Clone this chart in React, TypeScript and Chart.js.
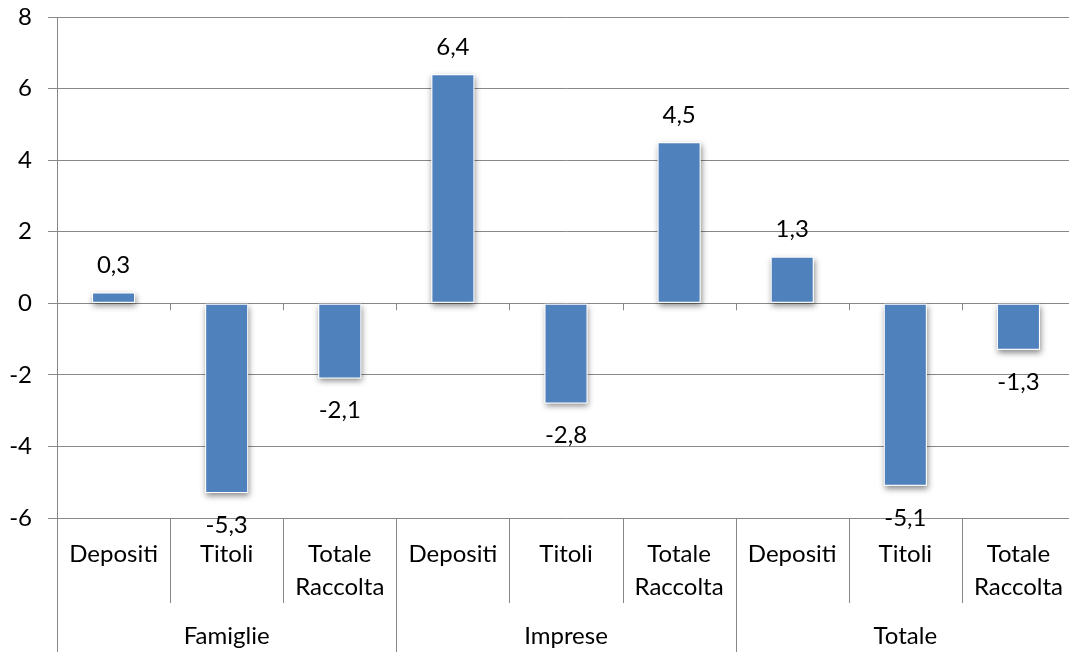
import { useEffect, useRef } from 'react';
import { Chart, registerables } from 'chart.js';

Chart.register(...registerables);

// Top-level groups and the sub-categories repeated under each of them
const groups = ['Famiglie', 'Imprese', 'Totale'];
const subCategories = [['Depositi'], ['Titoli'], ['Totale', 'Raccolta']];

// Percentage changes, one per sub-category, in group order
const values = [0.3, -5.3, -2.1, 6.4, -2.8, 4.5, 1.3, -5.1, -1.3];

// Value axis
const yTicks = [-6, -4, -2, 0, 2, 4, 6, 8];

const FONT = 'Lato, "DejaVu Sans", sans-serif';
const FONT_SIZE = 24;
const GRID = '#888888';
const BAR = '#4F81BD';

const labels = groups.flatMap((g) => subCategories.map((s) => `${g} ${s.join(' ')}`));

const fmt = (v: number) => v.toFixed(1).replace('.', ',');

const line = (ctx: CanvasRenderingContext2D, x: number, y1: number, y2: number) => {
  const px = Math.round(x) + 0.5;
  ctx.beginPath();
  ctx.moveTo(px, y1);
  ctx.lineTo(px, y2);
  ctx.stroke();
};

// Soft drop shadow painted beneath every bar
const barShadow = {
  id: 'barShadow',
  beforeDatasetsDraw(chart: any) {
    const ctx = chart.ctx as CanvasRenderingContext2D;
    const meta = chart.getDatasetMeta(0);
    ctx.save();
    ctx.shadowColor = 'rgba(0,0,0,0.45)';
    ctx.shadowBlur = 6;
    ctx.shadowOffsetX = 1;
    ctx.shadowOffsetY = 3;
    ctx.fillStyle = '#ffffff';
    meta.data.forEach((bar: any) => {
      const { x, y, base, width } = bar.getProps(['x', 'y', 'base', 'width'], true);
      const top = Math.min(y, base);
      const h = Math.abs(base - y);
      ctx.fillRect(x - width / 2, top, width, h);
    });
    ctx.restore();
  },
};

// Two-level category axis, zero-line ticks and value labels
const annotations = {
  id: 'annotations',
  afterDraw(chart: any) {
    const ctx = chart.ctx as CanvasRenderingContext2D;
    const area = chart.chartArea;
    const xs = chart.scales.x;
    const ys = chart.scales.y;
    const n = labels.length;
    const step = (area.right - area.left) / n;
    const zeroY = ys.getPixelForValue(0);
    const perGroup = subCategories.length;
    const chartBottom = chart.height;

    ctx.save();
    ctx.strokeStyle = GRID;
    ctx.lineWidth = 1;

    for (let i = 0; i <= n; i++) {
      const bx = xs.getPixelForValue(0) - step / 2 + i * step;
      const isGroupEdge = i % perGroup === 0;
      line(ctx, bx, area.bottom, isGroupEdge ? chartBottom : area.bottom + 85);
      if (i > 0 && i < n) line(ctx, bx, zeroY, zeroY + 7);
    }

    ctx.fillStyle = '#000000';
    ctx.font = `${FONT_SIZE}px ${FONT}`;
    ctx.textAlign = 'center';
    ctx.textBaseline = 'middle';

    labels.forEach((_, i) => {
      const cx = xs.getPixelForValue(i);
      const parts = subCategories[i % perGroup];
      parts.forEach((t, k) => ctx.fillText(t, cx, area.bottom + 36 + k * 33));
    });

    groups.forEach((g, gi) => {
      const first = xs.getPixelForValue(gi * perGroup);
      const last = xs.getPixelForValue(gi * perGroup + perGroup - 1);
      ctx.fillText(g, (first + last) / 2, area.bottom + 118);
    });

    const meta = chart.getDatasetMeta(0);
    meta.data.forEach((bar: any, i: number) => {
      const v = values[i];
      const { x, y } = bar.getProps(['x', 'y'], true);
      ctx.fillText(fmt(v), x, v >= 0 ? y - 27 : y + 32);
    });

    ctx.restore();
  },
};

export default function App() {
  const canvasRef = useRef<HTMLCanvasElement | null>(null);

  useEffect(() => {
    const canvas = canvasRef.current;
    if (!canvas) return;
    const chart = new Chart(canvas, {
      type: 'bar',
      data: {
        labels,
        datasets: [
          {
            data: values,
            backgroundColor: BAR,
            borderColor: '#ffffff',
            borderWidth: 1,
            borderSkipped: false,
            barPercentage: 0.38,
            categoryPercentage: 1,
          },
        ],
      },
      options: {
        responsive: false,
        animation: false,
        devicePixelRatio: 1,
        layout: { padding: { left: 0, top: 17, right: 2, bottom: 134 } },
        plugins: { legend: { display: false }, tooltip: { enabled: false } },
        scales: {
          x: { type: 'category', display: false },
          y: {
            min: -6,
            max: 8,
            afterFit: (scale: any) => {
              scale.width = 57;
              scale.paddingTop = 0;
              scale.paddingBottom = 0;
            },
            afterBuildTicks: (scale: any) => {
              scale.ticks = yTicks.map((v) => ({ value: v }));
            },
            ticks: {
              color: '#000000',
              padding: 16,
              font: { family: FONT, size: FONT_SIZE },
              callback: (v: any) => String(v),
            },
            grid: { color: GRID, lineWidth: 1, tickLength: 9, drawTicks: true },
            border: { display: true, color: GRID, width: 1 },
          },
        },
      },
      plugins: [barShadow, annotations],
    });
    return () => chart.destroy();
  }, []);

  return (
    <div
      style={{
        position: 'fixed',
        left: 0,
        top: 0,
        width: 1069,
        height: 652,
        overflow: 'hidden',
        background: '#ffffff',
      }}
    >
      <canvas ref={canvasRef} width={1077} height={652} style={{ display: 'block' }} />
    </div>
  );
}
